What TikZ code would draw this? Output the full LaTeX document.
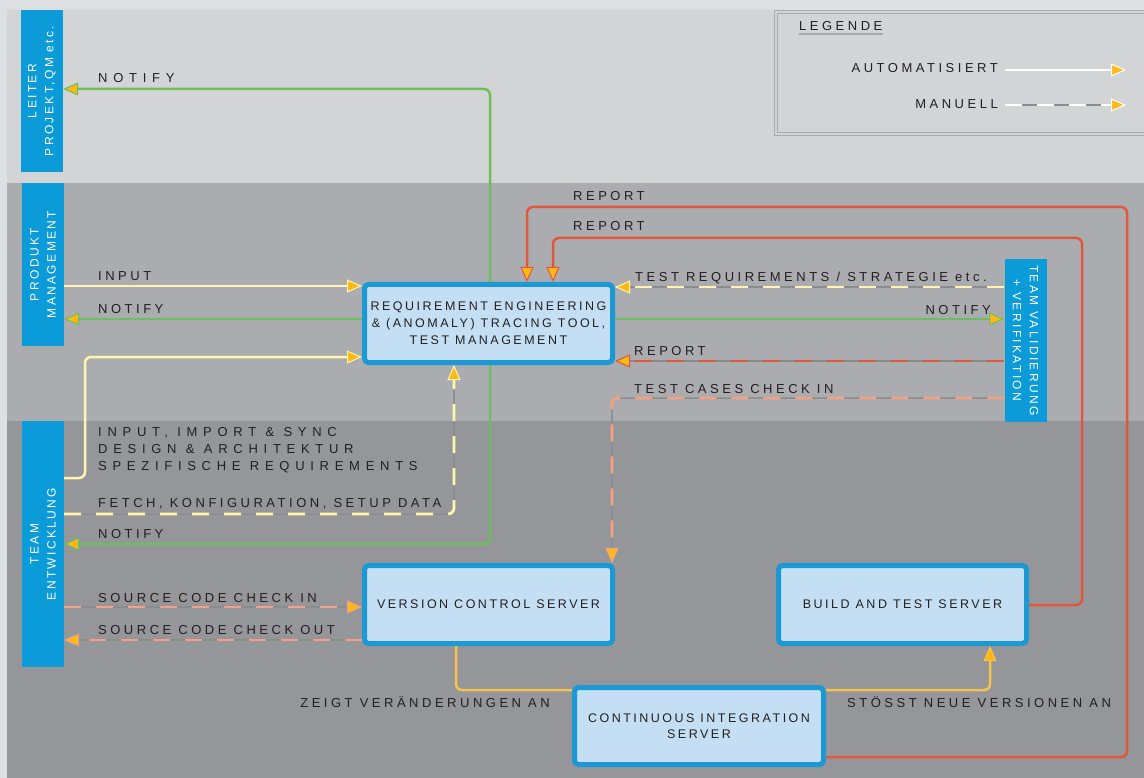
\documentclass[tikz,border=0pt]{standalone}
\usepackage{fontspec}
\setmainfont{Liberation Sans}
\newfontfamily\lblfont[LetterSpace=27]{Liberation Sans}
\newfontfamily\widefont[LetterSpace=44]{Liberation Sans}
\newfontfamily\boxfont[LetterSpace=20]{Liberation Sans}
\usetikzlibrary{shapes,arrows.meta}

\definecolor{outerbg}{HTML}{DEDFE1}
\definecolor{bandtop}{HTML}{D3D4D6}
\definecolor{bandmid}{HTML}{ABACAF}
\definecolor{bandlow}{HTML}{959699}
\definecolor{sideblue}{HTML}{0A9BD8}
\definecolor{boxblue}{HTML}{1C99D5}
\definecolor{boxfill}{HTML}{C4DFF3}
\definecolor{notifygreen}{HTML}{6DBE5C}
\definecolor{inyellow}{HTML}{FFF5B0}
\definecolor{reportred}{HTML}{E0573B}
\definecolor{ciorange}{HTML}{F9C24C}
\definecolor{codesalmon}{HTML}{F2A283}
\definecolor{tipyellow}{HTML}{FDB913}
\definecolor{dashgray}{HTML}{8B8C8F}
\definecolor{legendgray}{HTML}{A9AAAD}
\definecolor{ink}{HTML}{231F20}

\tikzstyle{side} = [rectangle, fill=sideblue, inner sep=0pt, minimum width=42pt]
\tikzstyle{sidetext} = [text=white, align=center, inner sep=0pt, font=\boxfont\fontsize{12}{17}\selectfont]
\tikzstyle{tool} = [rectangle, rounded corners=4pt, draw=boxblue, line width=5pt, fill=boxfill, minimum width=248pt, minimum height=78pt, align=center, text=ink, font=\boxfont\fontsize{12.5}{17}\selectfont]
\tikzstyle{lbl} = [inner sep=0pt, text=ink, font=\lblfont\fontsize{13}{17}\selectfont]
\tikzstyle{widelbl} = [inner sep=0pt, text=ink, font=\widefont\fontsize{13}{17}\selectfont]
\tikzset{
  auto line/.style={line width=2.5pt, draw=#1, rounded corners=6pt,
    -{Triangle[length=15pt, width=13pt, color=#1, fill=tipyellow, line width=1pt]}},
  manual line/.style={line width=1.5pt, draw=dashgray, rounded corners=6pt,
    -{Triangle[length=15pt, width=13pt, color=#1, fill=tipyellow, line width=1pt]},
    postaction={draw=#1, line width=2.8pt, dash pattern=on 17pt off 15pt, -, shorten >=15pt}},
}

\begin{document}
\begin{tikzpicture}[x=1pt, y=-1pt]
\useasboundingbox (0,0) rectangle (1144,778);

% bands
\fill[outerbg] (0,0) rectangle (1144,778);
\fill[bandtop] (7,10) rectangle (1144,183);
\fill[bandmid] (7,183) rectangle (1144,421);
\fill[bandlow] (7,421) rectangle (1144,778);

% legend
\draw[legendgray] (1144,10) -| (774,135) -- (1144,135);
\draw[legendgray] (1144,13) -| (777,132) -- (1144,132);
\node[lbl, anchor=base west] (legende) at (799,31) {LEGENDE};
\draw[legendgray, line width=2pt] ([yshift=-3pt]legende.south west) -- ([yshift=-3pt]legende.south east);
\node[lbl, anchor=base east] (lauto) at (998,73) {AUTOMATISIERT};
\node[lbl, anchor=base east] (lmanuell) at (998,109) {MANUELL};
\coordinate (autoa) at (1005,70);
\coordinate (autob) at (1126,70);
\coordinate (mana) at (1005,105);
\coordinate (manb) at (1126,105);
\draw[auto line=white] (autoa) -- (autob);
\draw[manual line=white] (mana) -- (manb);

% actors
\node[side, minimum height=162pt] (leiter) at (42,91) {};
\node[sidetext, rotate=90] (leitertxt) at (leiter) {LEITER\\PROJEKT,QM etc.};
\node[side, minimum height=163pt] (pm) at (43,264.5) {};
\node[sidetext, rotate=90] (pmtxt) at (pm) {PRODUKT\\MANAGEMENT};
\node[side, minimum height=246pt] (te) at (43,544) {};
\node[sidetext, rotate=90] (tetxt) at (te) {TEAM\\ENTWICKLUNG};
\node[side, minimum height=162pt] (tv) at (1025.5,340.5) {};
\node[sidetext, rotate=-90] (tvtxt) at (tv) {TEAM VALIDIERUNG\\+ VERIFIKATION};

% systems
\node[tool] (re) at (488.5,323.5) {REQUIREMENT ENGINEERING\\\& (ANOMALY) TRACING TOOL,\\TEST MANAGEMENT};
\node[tool] (vcs) at (488.5,604.5) {VERSION CONTROL SERVER};
\node[tool] (bts) at (902.5,604.5) {BUILD AND TEST SERVER};
\node[tool, minimum width=249pt, minimum height=77pt, font=\boxfont\fontsize{12.5}{16}\selectfont] (ci) at (699,726) {CONTINUOUS INTEGRATION\\SERVER};

% connectors
\draw[auto line=notifygreen] (re.north -| 490,0) |- (leiter.east |- 0,89);
\draw[auto line=inyellow] (pm.east |- 0,286) -- (re.west |- 0,286);
\draw[auto line=notifygreen] (re.west |- 0,319) -- (pm.east |- 0,319);
\draw[auto line=inyellow] (te.east |- 0,478) -| (85,420) |- (re.west |- 0,357);
\draw[manual line=inyellow] (te.east |- 0,514) -| (re.south -| 454,0);
\draw[auto line=notifygreen] (re.south -| 490,0) |- (te.east |- 0,544);
\draw[manual line=codesalmon] (te.east |- 0,607) -- (vcs.west |- 0,607);
\draw[manual line=codesalmon] (vcs.west |- 0,640) -- (te.east |- 0,640);
\draw[manual line=inyellow] (tv.west |- 0,287) -- (re.east |- 0,287);
\draw[auto line=notifygreen] (re.east |- 0,319) -- (tv.west |- 0,319);
\draw[manual line=reportred] (tv.west |- 0,361) -- (re.east |- 0,361);
\draw[manual line=codesalmon] (tv.west |- 0,398) -| (vcs.north -| 612,0);
\draw[auto line=reportred] (ci.east |- 0,757) -| (1127,207) -| (re.north -| 527,0);
\draw[auto line=reportred] (bts.east |- 0,605) -| (1082,238) -| (re.north -| 553,0);
\draw[line width=2.5pt, draw=ciorange, rounded corners=6pt] (vcs.south -| 456,0) |- (ci.west |- 0,690);
\draw[auto line=ciorange] (ci.east |- 0,690) -| (bts.south -| 990,0);

% labels
\node[widelbl, anchor=base west] (lnotify1) at (98,83) {NOTIFY};
\node[lbl, anchor=base west] (linput) at (98,281) {INPUT};
\node[lbl, anchor=base west] (lnotify2) at (98,313) {NOTIFY};
\node[widelbl, anchor=base west] (lsync1) at (98,436) {INPUT, IMPORT \& SYNC};
\node[widelbl, anchor=base west] (lsync2) at (98,453) {DESIGN \& ARCHITEKTUR};
\node[widelbl, anchor=base west] (lsync3) at (98,470) {SPEZIFISCHE REQUIREMENTS};
\node[lbl, anchor=base west] (lfetch) at (98,507) {FETCH, KONFIGURATION, SETUP DATA};
\node[lbl, anchor=base west] (lnotify3) at (98,538) {NOTIFY};
\node[lbl, anchor=base west] (lcheckin) at (98,602) {SOURCE CODE CHECK IN};
\node[lbl, anchor=base west] (lcheckout) at (98,634) {SOURCE CODE CHECK OUT};
\node[lbl, anchor=base east] (lzeigt) at (550,707) {ZEIGT VERÄNDERUNGEN AN};
\node[lbl, anchor=base west] (lstoesst) at (847,707) {STÖSST NEUE VERSIONEN AN};
\node[lbl, anchor=base west] (ltestreq) at (635,282) {TEST REQUIREMENTS / STRATEGIE etc.};
\node[lbl, anchor=base east] (lnotify4) at (991,314) {NOTIFY};
\node[lbl, anchor=base west] (lreport3) at (634,355) {REPORT};
\node[lbl, anchor=base west] (ltestcases) at (634,393) {TEST CASES CHECK IN};
\node[lbl, anchor=base west] (lreport1) at (573,201) {REPORT};
\node[lbl, anchor=base west] (lreport2) at (573,231) {REPORT};
\end{tikzpicture}
\end{document}
